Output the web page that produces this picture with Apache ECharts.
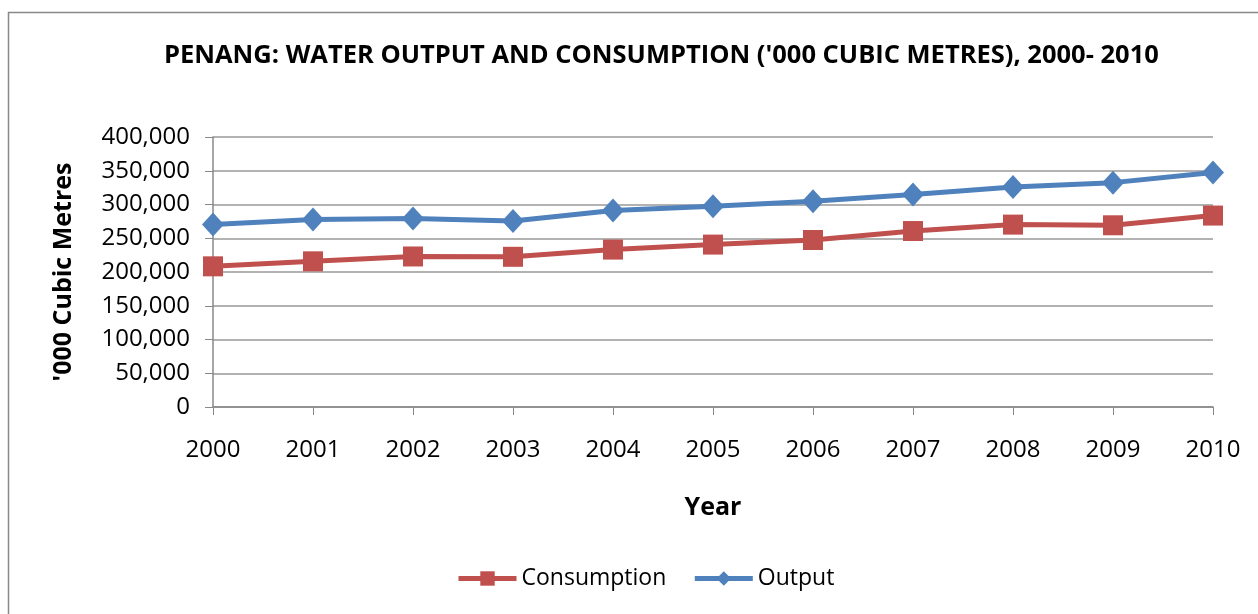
<!DOCTYPE html>
<html>
<head>
<meta charset="utf-8">
<script src="https://cdn.jsdelivr.net/npm/echarts@6/dist/echarts.min.js"></script>
<style>
html, body { margin: 0; padding: 0; background: #fff; }
#main { width: 1258px; height: 614px; }
</style>
</head>
<body>
<div id="main"></div>
<script>
// 年份
var years = ['2000', '2001', '2002', '2003', '2004', '2005', '2006', '2007', '2008', '2009', '2010'];
// 用水量
var consumption = [208400, 215800, 223000, 222500, 233200, 240600, 247400, 260700, 270200, 269200, 283600];
// 供水量
var output = [270200, 277600, 279100, 275600, 291000, 297300, 304700, 314700, 325900, 332400, 347300];

var font = "'Open Sans', 'Noto Sans', sans-serif";

var chart = echarts.init(document.getElementById('main'));
var option = {
	backgroundColor : '#fff',
	animation : false,
	textStyle : { fontFamily : font },
	title : {
		text : "PENANG: WATER OUTPUT AND CONSUMPTION ('000 CUBIC METRES), 2000- 2010",
		left : 159,
		top : 38,
		textStyle : { fontSize : 25.5, fontWeight : 'bold', color : '#000', fontFamily : font }
	},
	graphic : [ {
		type : 'rect',
		shape : { x : 8.5, y : 12.5, width : 1270, height : 620 },
		style : { fill : 'none', stroke : '#888', lineWidth : 1.5 },
		silent : true
	} ],
	legend : {
		bottom : 19,
		left : 451,
		itemWidth : 58,
		itemHeight : 18,
		itemGap : 26,
		lineStyle : { width : 5 },
		textStyle : { fontSize : 23, color : '#000', fontFamily : font },
		data : [ 'Consumption', 'Output' ]
	},
	grid : {
		left : 213,
		right : 45,
		top : 137,
		bottom : 207,
		containLabel : false
	},
	xAxis : {
		type : 'category',
		data : years,
		boundaryGap : false,
		name : 'Year',
		nameLocation : 'center',
		nameGap : 88,
		nameTextStyle : { fontSize : 25, fontWeight : 'bold', color : '#000' },
		axisLine : { lineStyle : { color : '#888', width : 1.5 } },
		axisTick : { show : true, alignWithLabel : true, length : 8, lineStyle : { color : '#888' } },
		axisLabel : { fontSize : 24, color : '#000', margin : 31 }
	},
	yAxis : {
		type : 'value',
		min : 0,
		max : 400000,
		interval : 50000,
		name : "'000 Cubic Metres",
		nameLocation : 'center',
		nameGap : 137,
		nameTextStyle : { fontSize : 25, fontWeight : 'bold', color : '#000' },
		axisLine : { show : true, lineStyle : { color : '#888', width : 1.5 } },
		axisTick : { show : true, length : 8, lineStyle : { color : '#888' } },
		splitLine : { lineStyle : { color : '#999', width : 1.5 } },
		axisLabel : {
			fontSize : 24,
			color : '#000',
			margin : 23,
			formatter : function(value) {
				return value.toLocaleString('en-US');
			}
		}
	},
	series : [ {
		name : 'Consumption',
		type : 'line',
		data : consumption,
		symbol : 'rect',
		symbolSize : 20,
		lineStyle : { color : '#C0504D', width : 5 },
		itemStyle : { color : '#C0504D' }
	}, {
		name : 'Output',
		type : 'line',
		data : output,
		symbol : 'diamond',
		symbolSize : [ 22, 24 ],
		lineStyle : { color : '#4F81BD', width : 5 },
		itemStyle : { color : '#4F81BD' }
	} ]
};
chart.setOption(option);
</script>
</body>
</html>
